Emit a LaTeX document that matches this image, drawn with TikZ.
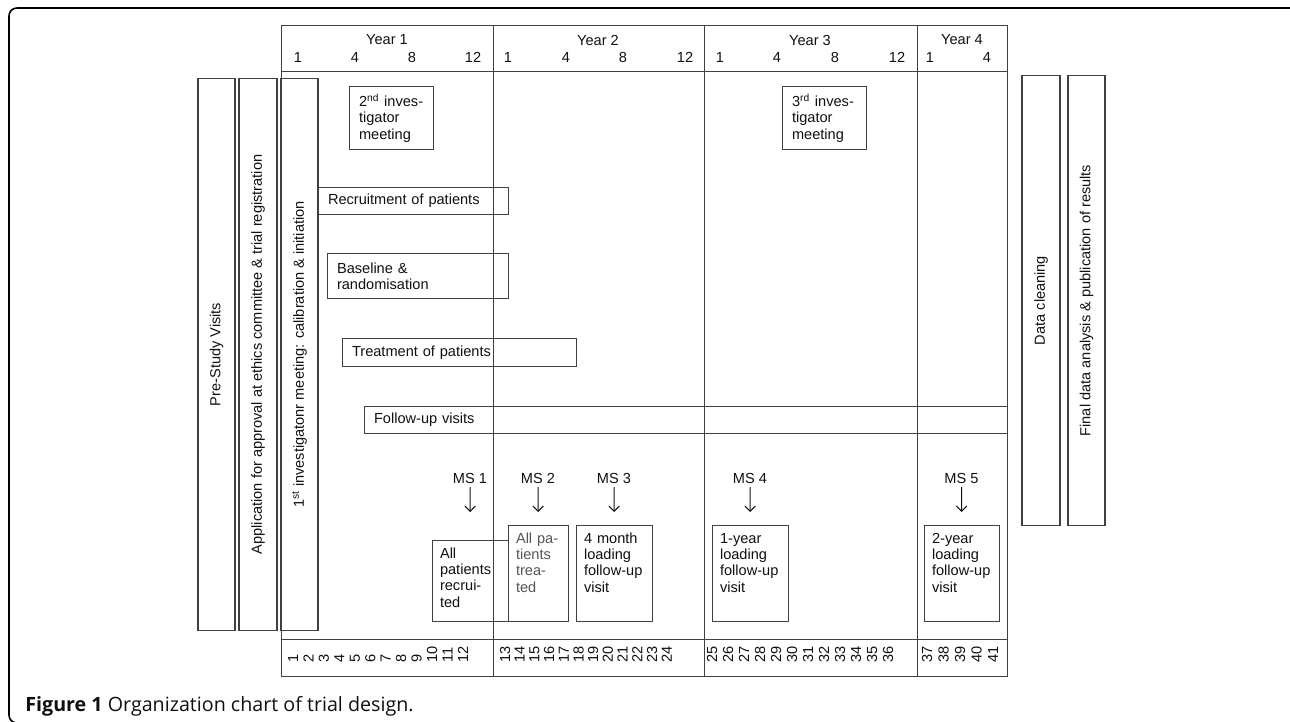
\documentclass[tikz,border=0pt]{standalone}
\usepackage{fontspec}
\setmainfont{Liberation Sans}
\newfontfamily\captionfont{Open Sans}
\usetikzlibrary{arrows.meta}
\definecolor{rule}{HTML}{404040}
\definecolor{ink}{HTML}{101010}
\definecolor{fadeink}{HTML}{555555}

\begin{document}
\begin{tikzpicture}[
    x=0.02cm, y=-0.02cm,
    every node/.style={font=\fontsize{8.3}{9.35}\selectfont, text=ink},
    chartgrid/.style={draw=rule, line width=0.5pt},
    phase/.style={draw=rule, line width=0.6pt, rotate=90, inner sep=0pt},
    task/.style={draw=rule, line width=0.6pt, anchor=north west, align=left, inner xsep=0.19cm, inner ysep=0pt},
    milestone/.style={draw=rule, line width=0.6pt, anchor=north west, align=left, inner xsep=0.15cm, inner ysep=3pt, text height=7pt},
    monthnum/.style={rotate=90, anchor=west, inner sep=0pt},
    mslabel/.style={inner sep=1pt},
    msarrow/.style={-{Straight Barb[length=3pt,width=6pt]}, draw=ink, line width=0.6pt, shorten <=1pt}
]
    \useasboundingbox (0,0) rectangle (1290,721);

    % figure frame
    \draw [line width=0.9pt, rounded corners=4.5pt] (1300,8) -- (9,8) -- (9,723) -- (60,723);

    % chart grid
    \draw [chartgrid] (281,25) rectangle (1007,676);
    \draw [chartgrid] (281,71) -- (1007,71);
    \draw [chartgrid] (281,639) -- (1007,639);
    \foreach \x in {493,704,917}
        \draw [chartgrid] (\x,25) -- (\x,676);

    % header
    \node (yr1) at (387,40) {Year 1};
    \node (yr2) at (598,40) {Year 2};
    \node (yr3) at (810,40) {Year 3};
    \node (yr4) at (962,40) {Year 4};
    \foreach \x/\m [count=\k] in {298/1, 355/4, 412/8, 473/12, 508/1, 566/4, 623/8, 685/12,
                                  720/1, 777/4, 835/8, 897/12, 930/1, 987/4}
        \node (mon\k) at (\x,57) {\m};

    % months along the bottom
    \foreach \i in {1,...,12}
        \node [monthnum] (wk\i) at ({293+15.45*(\i-1)},663) {\i};
    \foreach \i in {13,...,24}
        \node [monthnum] (wk\i) at ({505+14.7*(\i-13)},663) {\i};
    \foreach \i in {25,...,36}
        \node [monthnum] (wk\i) at ({712+16*(\i-25)},663) {\i};
    \foreach \i in {37,...,41}
        \node [monthnum] (wk\i) at ({927+16.5*(\i-37)},663) {\i};

    % phases before and after the trial
    \node [phase, minimum width=11.06cm, minimum height=0.74cm] (prestudy) at (216.5,354.5) {Pre-Study Visits};
    \node [phase, minimum width=11.06cm, minimum height=0.76cm] (approval) at (258,354.5) {Application for approval at ethics committee \& trial registration};
    \node [phase, minimum width=11.06cm, minimum height=0.74cm] (meeting1) at (299.5,354.5) {1\textsuperscript{st} investigatonr meeting: calibration \& initiation};
    \node [phase, minimum width=9.02cm, minimum height=0.76cm] (cleaning) at (1041,300.5) {Data cleaning};
    \node [phase, minimum width=9.02cm, minimum height=0.74cm] (analysis) at (1086.5,300.5) {Final data analysis \& publication of results};

    % tasks
    \node [task, text width=1.3cm, minimum height=1.26cm] (meeting2) at (349,86) {2\textsuperscript{nd} inves-\\tigator\\meeting};
    \node [task, text width=1.3cm, minimum height=1.26cm] (meeting3) at (782,86) {3\textsuperscript{rd} inves-\\tigator\\meeting};
    \node [task, text width=3.42cm, minimum height=0.54cm] (recruit) at (318,187) {Recruitment of patients};
    \node [task, text width=3.24cm, minimum height=0.9cm] (baseline) at (327,253) {Baseline \&\\randomisation};
    \node [task, text width=4.3cm, minimum height=0.56cm] (treat) at (342,338) {Treatment of patients};
    \node [task, text width=12.48cm, minimum height=0.54cm] (followup) at (364,406) {Follow-up visits};

    % milestones
    \node [milestone, text width=1.22cm, text depth=32.9pt] (allrec) at (432,540) {All\\patients\\recrui-\\ted};
    \node [milestone, text width=0.9cm, text depth=41.4pt, text=fadeink] (alltreat) at (508,525) {All pa-\\tients\\trea-\\ted};
    \node [milestone, text width=1.22cm, text depth=41.4pt] (fu4m) at (576,525) {4 month\\loading\\follow-up\\visit};
    \node [milestone, text width=1.22cm, text depth=41.4pt] (fu1y) at (712,525) {1-year\\loading\\follow-up\\visit};
    \node [milestone, text width=1.2cm, text depth=41.4pt] (fu2y) at (924,525) {2-year\\loading\\follow-up\\visit};

    \node [mslabel] (ms1) at (470,478) {MS 1};
    \node [mslabel] (ms2) at (538,478) {MS 2};
    \node [mslabel] (ms3) at (614,478) {MS 3};
    \node [mslabel] (ms4) at (750,478) {MS 4};
    \node [mslabel] (ms5) at (961.5,478) {MS 5};

    \draw [msarrow, shorten >=15.9pt] (ms1) -- (allrec);
    \draw [msarrow, shorten >=7.4pt] (ms2) -- (alltreat);
    \draw [msarrow, shorten >=7.4pt] (ms3) -- (fu4m);
    \draw [msarrow, shorten >=7.4pt] (ms4) -- (fu1y);
    \draw [msarrow, shorten >=7.4pt] (ms5) -- (fu2y);

    % caption
    \node [anchor=base west, inner sep=0pt, font=\captionfont\fontsize{11.2}{13}\selectfont] (caption) at (25,711)
        {\textbf{Figure 1} Organization chart of trial design.};
\end{tikzpicture}
\end{document}
